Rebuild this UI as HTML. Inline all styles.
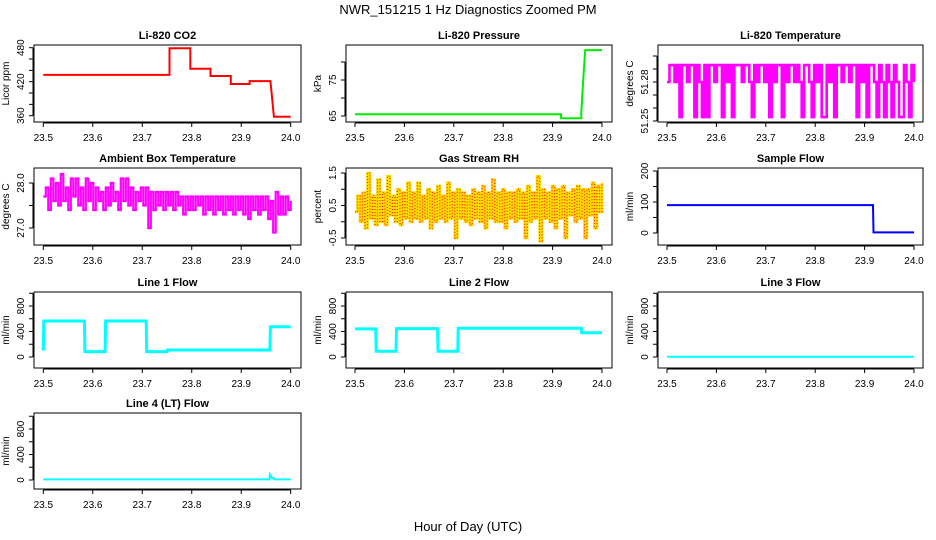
<!DOCTYPE html>
<html><head><meta charset="utf-8">
<style>
body{margin:0;background:#fff;}
svg{display:block;font-family:"Liberation Sans",Arial,sans-serif;}
.t{font-weight:bold;font-size:11px;}
.tk{font-size:10px;}
</style></head>
<body>
<svg id="c" width="936" height="540" viewBox="0 0 936 540">
<text x="468" y="14" text-anchor="middle" font-size="13">NWR_151215  1 Hz Diagnostics Zoomed PM</text>
<text x="468" y="531" text-anchor="middle" font-size="13">Hour of Day (UTC)</text>
</svg>
<script>
// ---- data ----
const xTicks = [23.5,23.6,23.7,23.8,23.9,24.0];
const xTickLabels = ["23.5","23.6","23.7","23.8","23.9","24.0"];

const co2Times  = [23.5,23.755,23.755,23.797,23.797,23.838,23.838,23.879,23.879,23.917,23.917,23.959,23.962,23.966,24.0];
const co2Values = [432,432,479,479,443,443,430,430,416,416,421,421,395,358,358];

const presTimes  = [23.5,23.917,23.917,23.958,23.958,23.962,23.966,24.0];
const presValues = [65.5,65.5,64.4,64.4,66,75,83.3,83.3];

const liTempValues = [51.28,51.293,51.293,51.28,51.293,51.253,51.293,51.293,51.28,51.293,51.293,51.253,51.293,51.28,51.253,51.293,51.253,51.293,51.293,51.28,
51.293,51.293,51.253,51.293,51.28,51.293,51.253,51.293,51.293,51.293,51.28,51.293,51.293,51.28,51.253,51.293,51.28,51.293,51.293,51.28,
51.293,51.253,51.293,51.28,51.293,51.293,51.253,51.293,51.28,51.293,51.293,51.28,51.293,51.28,51.253,51.293,51.293,51.28,51.253,51.293,
51.28,51.293,51.253,51.253,51.293,51.28,51.293,51.253,51.293,51.293,51.28,51.293,51.293,51.28,51.293,51.293,51.253,51.293,51.28,51.293,
51.253,51.293,51.293,51.28,51.253,51.293,51.28,51.253,51.293,51.28,51.253,51.293,51.28,51.253,51.253,51.293,51.28,51.253,51.293,51.28];

const ambValues = [27.7,27.9,27.4,28.1,27.6,28.0,27.5,28.2,27.6,27.9,27.4,28.1,27.7,28.1,27.5,27.9,27.4,28.1,27.6,28.0,
27.4,27.9,27.6,27.8,27.4,27.9,27.5,28.0,27.6,27.8,27.4,28.1,27.6,28.1,27.5,27.9,27.4,27.8,27.6,27.9,
27.5,27.9,27.0,27.8,27.4,27.8,27.5,27.8,27.4,27.8,27.5,27.8,27.4,27.8,27.5,27.7,27.3,27.7,27.4,27.7,
27.4,27.7,27.5,27.7,27.3,27.7,27.4,27.7,27.3,27.7,27.4,27.7,27.3,27.7,27.4,27.7,27.3,27.7,27.4,27.7,
27.3,27.7,27.2,27.7,27.4,27.7,27.3,27.7,27.4,27.7,27.2,27.6,26.9,27.8,27.3,27.7,27.3,27.7,27.4,27.6];

const rhValues = [0.3,0.8,0.0,0.9,-0.2,1.5,0.1,0.8,-0.1,1.3,0.0,0.9,-0.1,1.4,0.2,0.8,0.0,1.0,-0.1,0.9,
0.1,1.2,0.0,0.9,0.1,1.2,0.0,0.8,0.1,1.0,-0.2,0.9,0.0,1.1,0.1,0.8,0.0,1.2,0.1,0.9,
-0.5,1.0,0.1,0.9,0.0,0.8,-0.1,1.0,0.1,0.9,0.0,1.1,-0.2,0.9,0.1,1.3,0.0,0.9,0.0,1.0,
-0.2,0.9,0.1,0.9,0.0,1.0,0.1,0.9,-0.5,1.1,0.0,0.9,0.1,1.4,-0.6,1.0,0.1,0.9,0.0,1.1,
-0.2,1.0,0.1,1.1,-0.5,0.9,0.2,1.0,0.0,1.1,0.1,1.0,-0.5,1.0,0.2,1.2,-0.2,1.1,0.3,1.2];

const sampleTimes  = [23.5,23.917,23.918,24.0];
const sampleValues = [90,90,2,2];

const line1Times  = [23.5,23.501,23.583,23.584,23.625,23.626,23.708,23.709,23.75,23.751,23.958,23.959,24.0];
const line1Values = [100,565,565,85,85,565,565,85,85,110,110,475,475];
const line2Times  = [23.5,23.542,23.543,23.583,23.584,23.667,23.668,23.708,23.709,23.958,23.959,24.0];
const line2Values = [440,440,90,90,445,445,90,90,450,450,380,380];
const line3Times  = [23.5,24.0];
const line3Values = [5,5];
const line4Times  = [23.5,23.957,23.958,23.961,23.962,23.965,23.966,24.0];
const line4Values = [10,10,90,50,30,30,10,10];

// ---- layout ----
const cols=[{x0:34,x1:301,a:43.3,b:290.7},{x0:346,x1:612,a:355,b:602},{x0:658,x1:923,a:667,b:914}];
const rows=[{y0:45,y1:122},{y0:168,y1:245},{y0:292,y1:368},{y0:413,y1:489}];
const svg=document.getElementById('c');
const NS='http://www.w3.org/2000/svg';
function mk(tag,attrs,parent){const e=document.createElementNS(NS,tag);for(const k in attrs)e.setAttribute(k,attrs[k]);(parent||svg).appendChild(e);return e;}
function idxTimes(n){const t=[];for(let i=0;i<n;i++)t.push(23.5+0.5*i/(n-1));return t;}

function panel(cfg){
  const c=cols[cfg.col], r=rows[cfg.row];
  const g=mk('g',{});
  
  
  const xs=v=>c.a+(v-23.5)/0.5*(c.b-c.a);
  const ys=v=>cfg.p1+(v-cfg.v1)/(cfg.v2-cfg.v1)*(cfg.p2-cfg.p1);
  const t=mk('text',{x:(c.x0+c.x1)/2,y:r.y0-6,'text-anchor':'middle','class':'t'},g);
  t.textContent=cfg.title;
  
  
  cfg.series.forEach(s=>{
    let arr=[];
    s.t.forEach((tt,i)=>{
      arr.push([xs(tt),ys(s.v[i])]);
      if(s.step && i<s.t.length-1) arr.push([xs(s.t[i+1]),ys(s.v[i])]);
    });
    const pts=arr.map(p=>p[0].toFixed(1)+','+p[1].toFixed(1)).join(' ');
    const pl=mk('polyline',{points:pts,fill:'none',stroke:s.color,'stroke-width':s.w||1.5,'stroke-dasharray':s.dash||'none','stroke-linejoin':'miter'},g);
    
    
  });
  const bx=mk('rect',{x:c.x0,y:r.y0,width:c.x1-c.x0,height:r.y1-r.y0,fill:'none',stroke:'#000','stroke-width':1},g);
  
  
  const xa=mk('g',{},g);
  
  
  mk('line',{x1:xs(xTicks[0]),x2:xs(xTicks[xTicks.length-1]),y1:r.y1+1,y2:r.y1+1,stroke:'#000'},xa);
  xTicks.forEach((v,i)=>{
    mk('line',{x1:xs(v),x2:xs(v),y1:r.y1+1,y2:r.y1+5,stroke:'#000'},xa);
    const l=mk('text',{x:xs(v),y:r.y1+19,'text-anchor':'middle','class':'tk'},xa);
    l.textContent=xTickLabels[i];
  });
  const ya=mk('g',{},g);
  
  
  const yt=cfg.ticks;
  mk('line',{x1:c.x0-1,x2:c.x0-1,y1:ys(yt[0]),y2:ys(yt[yt.length-1]),stroke:'#000'},ya);
  yt.forEach(v=>{mk('line',{x1:c.x0-5,x2:c.x0-1,y1:ys(v),y2:ys(v),stroke:'#000'},ya);});
  cfg.labels.forEach(v=>{
    const y=ys(v), x=c.x0-10;
    const l=mk('text',{x:x,y:y,'text-anchor':'middle','class':'tk',transform:`rotate(-90 ${x} ${y})`},ya);
    l.textContent=cfg.fmt?cfg.fmt(v):String(v);
  });
  const yl=mk('text',{x:c.x0-25,y:(r.y0+r.y1)/2,'text-anchor':'middle','font-size':10,transform:`rotate(-90 ${c.x0-25} ${(r.y0+r.y1)/2})`},g);
  yl.textContent=cfg.ylab;
  
  
}

const flowTicks=[0,200,400,600,800,1000];
panel({name:'co2',title:'Li-820 CO2',col:0,row:0,v1:360,p1:115.7,v2:480,p2:47.7,ticks:[360,380,400,420,440,460,480],labels:[360,420,480],ylab:'Licor ppm',
  series:[{t:co2Times,v:co2Values,color:'#ff0000',w:2}]});
panel({name:'pressure',title:'Li-820 Pressure',col:1,row:0,v1:65,p1:116,v2:75,p2:80,ticks:[65,70,75,80],labels:[65,75],ylab:'kPa',
  series:[{t:presTimes,v:presValues,color:'#00ee00',w:2}]});
panel({name:'li820-temp',title:'Li-820 Temperature',col:2,row:0,v1:51.25,p1:121,v2:51.28,p2:82,ticks:[51.25,51.26,51.27,51.28,51.29,51.3],labels:[51.25,51.28],fmt:v=>v.toFixed(2),ylab:'degrees C',
  series:[{t:idxTimes(liTempValues.length),v:liTempValues,color:'#ff00ff',w:2.6,step:true}]});
panel({name:'ambient-temp',title:'Ambient Box Temperature',col:0,row:1,v1:27,p1:228,v2:28,p2:183,ticks:[27,27.5,28],labels:[27,28],fmt:v=>v.toFixed(1),ylab:'degrees C',
  series:[{t:idxTimes(ambValues.length),v:ambValues,color:'#ff00ff',w:2.2,step:true}]});
panel({name:'rh',title:'Gas Stream RH',col:1,row:1,v1:-0.5,p1:238,v2:1.5,p2:173,ticks:[-0.5,0,0.5,1,1.5],labels:[-0.5,0.5,1.5],fmt:v=>v.toFixed(1),ylab:'percent',
  series:[{t:idxTimes(rhValues.length),v:rhValues,color:'#ffdd00',w:2.6,step:true},{t:idxTimes(rhValues.length),v:rhValues,color:'#ff2000',w:1.2,dash:'1 2',step:true}]});
panel({name:'sample-flow',title:'Sample Flow',col:2,row:1,v1:0,p1:233,v2:200,p2:171,ticks:[0,50,100,150,200],labels:[0,100,200],ylab:'ml/min',
  series:[{t:sampleTimes,v:sampleValues,color:'#0000ff',w:2}]});
panel({name:'line1-flow',title:'Line 1 Flow',col:0,row:2,v1:0,p1:357,v2:800,p2:306,ticks:flowTicks,labels:[0,400,800],ylab:'ml/min',
  series:[{t:line1Times,v:line1Values,color:'#00ffff',w:3}]});
panel({name:'line2-flow',title:'Line 2 Flow',col:1,row:2,v1:0,p1:357,v2:800,p2:306,ticks:flowTicks,labels:[0,400,800],ylab:'ml/min',
  series:[{t:line2Times,v:line2Values,color:'#00ffff',w:3}]});
panel({name:'line3-flow',title:'Line 3 Flow',col:2,row:2,v1:0,p1:357,v2:800,p2:306,ticks:flowTicks,labels:[0,400,800],ylab:'ml/min',
  series:[{t:line3Times,v:line3Values,color:'#00ffff',w:2}]});
panel({name:'line4-flow',title:'Line 4 (LT) Flow',col:0,row:3,v1:0,p1:480,v2:800,p2:429,ticks:flowTicks,labels:[0,400,800],ylab:'ml/min',
  series:[{t:line4Times,v:line4Values,color:'#00ffff',w:2}]});
</script>
</body></html>
